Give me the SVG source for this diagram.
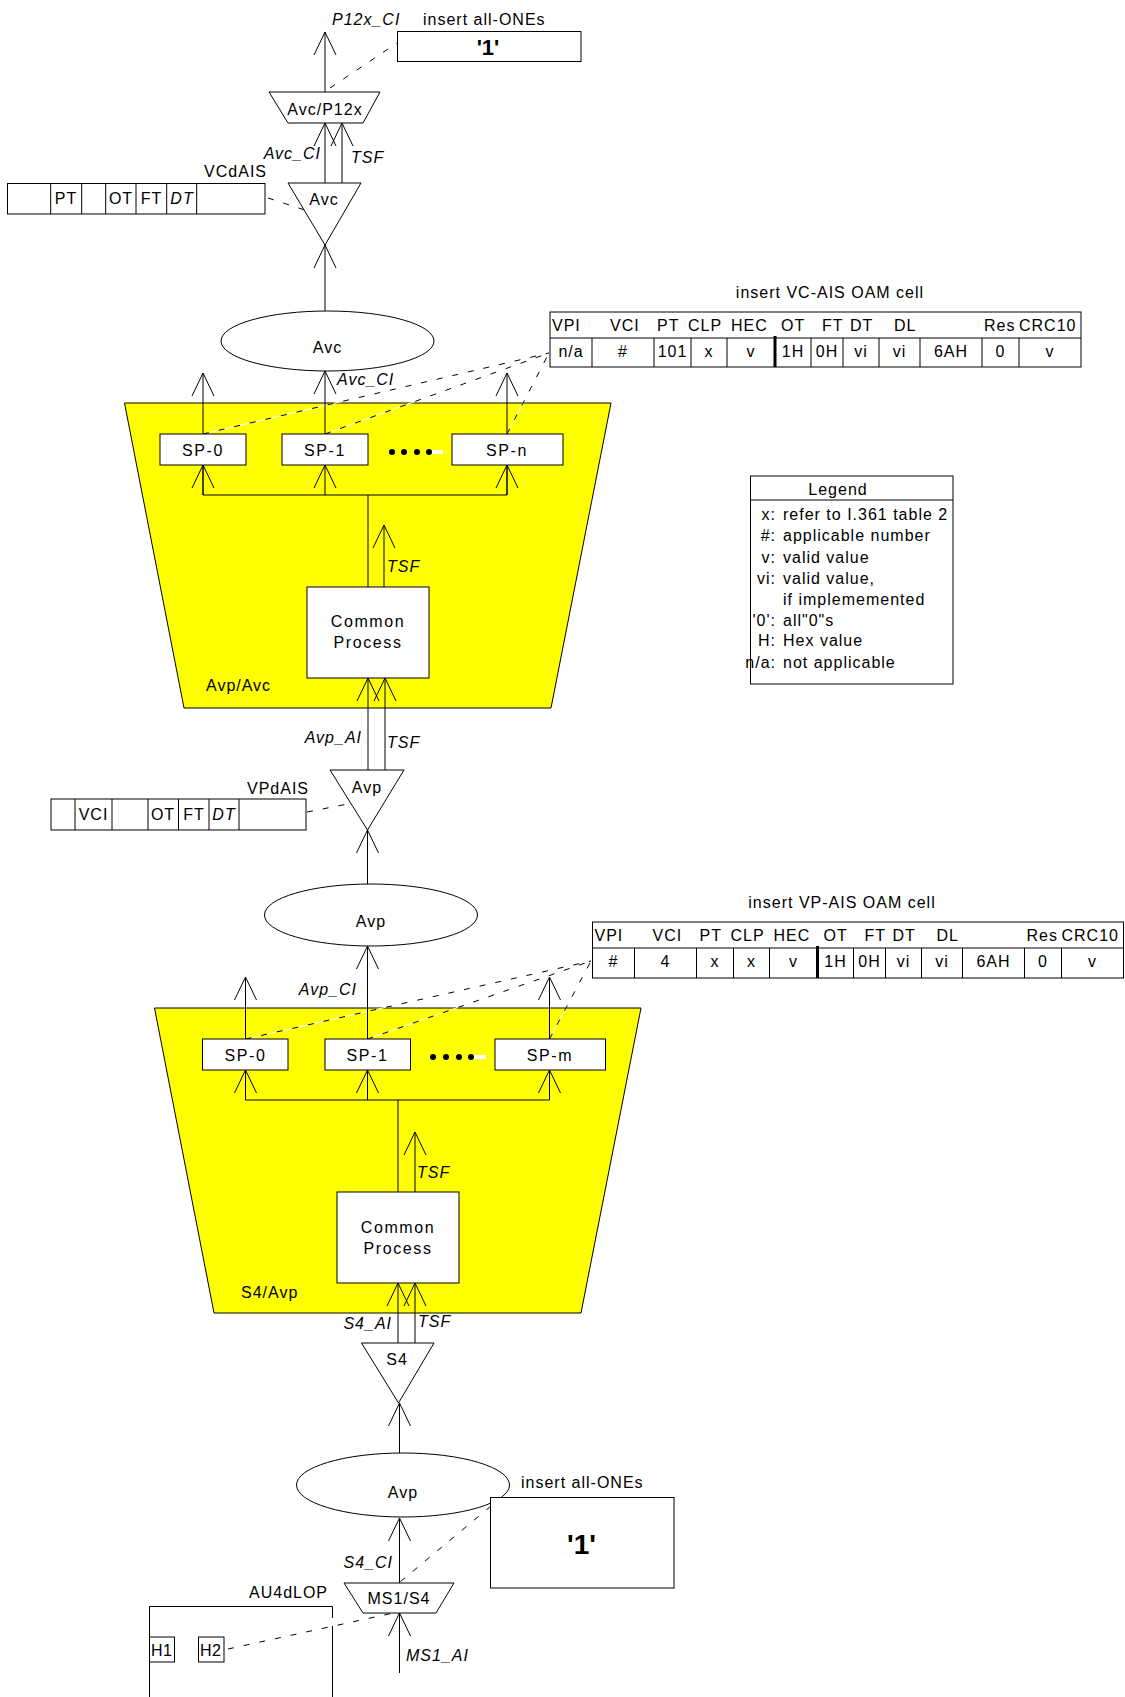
<svg xmlns="http://www.w3.org/2000/svg" width="1125" height="1697" viewBox="0 0 1125 1697">
<defs>
<marker id="a" markerUnits="userSpaceOnUse" viewBox="-24 -12 25 24" markerWidth="25" markerHeight="24" refX="0" refY="0" orient="auto" overflow="visible"><path d="M-23,-11 L0,0 L-23,11" fill="none" stroke="#000" stroke-width="1"/></marker>
</defs>
<style>
.ln{stroke:#000;fill:none;stroke-width:1}
.bx{stroke:#000;fill:#fff;stroke-width:1}
.yl{stroke:#000;fill:#ffff00;stroke-width:1}
.tk{stroke:#000;stroke-width:3}
.ds{stroke:#000;stroke-width:1;stroke-dasharray:6 10;fill:none}
.wl{stroke:#fff;stroke-width:1;fill:none}
text{font-family:"Liberation Sans",Arial,sans-serif;font-size:16px;letter-spacing:1px;fill:#000}
.i{font-style:italic}
.m{text-anchor:middle}
.e{text-anchor:end}
.w{letter-spacing:1.6px}
.n{letter-spacing:0.4px}
.b1{font-weight:bold;letter-spacing:0;font-size:22px}
.b2{font-weight:bold;letter-spacing:0;font-size:28px}
</style>
<rect width="1125" height="1697" fill="#fff"/>

<g id="avp-avc">
<polygon class="yl" points="124.5,403 611,403 551,708 184,708"/>
<text x="206" y="691">Avp/Avc</text>
</g>
<g id="s4-avp">
<polygon class="yl" points="154.5,1008 641,1008 581,1313 214,1313"/>
<text x="241" y="1298">S4/Avp</text>
</g>

<g id="connectors">
<line class="ds" x1="330" y1="88" x2="397" y2="43"/>
<line class="ds" x1="268" y1="198" x2="320" y2="215"/>
<line class="ds" x1="307" y1="812" x2="368" y2="800"/>
<line class="wl" x1="203" y1="434" x2="549" y2="353"/>
<line class="wl" x1="325" y1="434" x2="549" y2="353"/>
<line class="wl" x1="507" y1="434" x2="549" y2="353"/>
<line class="ds" x1="203" y1="434" x2="549" y2="353"/>
<line class="ds" x1="325" y1="434" x2="549" y2="353"/>
<line class="ds" x1="507" y1="434" x2="549" y2="353"/>
<line class="wl" x1="245.5" y1="1039" x2="591" y2="961"/>
<line class="wl" x1="367.5" y1="1039" x2="591" y2="961"/>
<line class="wl" x1="549.5" y1="1039" x2="591" y2="961"/>
<line class="ds" x1="245.5" y1="1039" x2="591" y2="961"/>
<line class="ds" x1="367.5" y1="1039" x2="591" y2="961"/>
<line class="ds" x1="549.5" y1="1039" x2="591" y2="961"/>
<line class="ds" x1="491" y1="1506" x2="400" y2="1582"/>
<line class="wl" x1="228" y1="1649" x2="398" y2="1612"/>
<line class="ds" x1="228" y1="1649" x2="398" y2="1612"/>

<line class="ln" x1="325" y1="92" x2="325" y2="32" marker-end="url(#a)"/>
<line class="ln" x1="325" y1="183" x2="325" y2="123" marker-end="url(#a)"/>
<line class="ln" x1="342" y1="183" x2="342" y2="123" marker-end="url(#a)"/>
<line class="ln" x1="325" y1="311" x2="325" y2="245" marker-end="url(#a)"/>
<line class="ln" x1="203" y1="434" x2="203" y2="373" marker-end="url(#a)"/>
<line class="ln" x1="325" y1="434" x2="325" y2="371" marker-end="url(#a)"/>
<line class="ln" x1="507" y1="434" x2="507" y2="373" marker-end="url(#a)"/>
<polyline class="ln" points="203,465 203,495 507,495 507,465"/>
<line class="ln" x1="325" y1="495" x2="325" y2="465" marker-end="url(#a)"/>
<line class="ln" x1="203" y1="495" x2="203" y2="465" marker-end="url(#a)"/>
<line class="ln" x1="507" y1="495" x2="507" y2="465" marker-end="url(#a)"/>
<line class="ln" x1="368" y1="495" x2="368" y2="587"/>
<line class="ln" x1="384" y1="587" x2="384" y2="525" marker-end="url(#a)"/>
<line class="ln" x1="368" y1="770" x2="368" y2="678" marker-end="url(#a)"/>
<line class="ln" x1="385" y1="770" x2="385" y2="678" marker-end="url(#a)"/>
<line class="ln" x1="367.5" y1="884" x2="367.5" y2="830" marker-end="url(#a)"/>
<line class="ln" x1="245.5" y1="1039" x2="245.5" y2="977" marker-end="url(#a)"/>
<line class="ln" x1="367.5" y1="1039" x2="367.5" y2="946" marker-end="url(#a)"/>
<line class="ln" x1="549.5" y1="1039" x2="549.5" y2="977" marker-end="url(#a)"/>
<polyline class="ln" points="245.5,1070 245.5,1100 549.5,1100 549.5,1070"/>
<line class="ln" x1="245.5" y1="1100" x2="245.5" y2="1070" marker-end="url(#a)"/>
<line class="ln" x1="367.5" y1="1100" x2="367.5" y2="1070" marker-end="url(#a)"/>
<line class="ln" x1="549.5" y1="1100" x2="549.5" y2="1070" marker-end="url(#a)"/>
<line class="ln" x1="398" y1="1100" x2="398" y2="1192"/>
<line class="ln" x1="415" y1="1192" x2="415" y2="1132" marker-end="url(#a)"/>
<line class="ln" x1="398" y1="1343" x2="398" y2="1283" marker-end="url(#a)"/>
<line class="ln" x1="415" y1="1343" x2="415" y2="1283" marker-end="url(#a)"/>
<line class="ln" x1="399.5" y1="1453" x2="399.5" y2="1403" marker-end="url(#a)"/>
<line class="ln" x1="399.5" y1="1583" x2="399.5" y2="1518" marker-end="url(#a)"/>
<line class="ln" x1="399.5" y1="1673" x2="399.5" y2="1613" marker-end="url(#a)"/>

<text class="i" x="332" y="25">P12x_CI</text>
<text class="i e" x="321" y="159">Avc_CI</text>
<text class="i" x="351" y="163">TSF</text>
<text class="i" x="337" y="385">Avc_CI</text>
<text class="i" x="387" y="572">TSF</text>
<text class="i e" x="362" y="743">Avp_AI</text>
<text class="i" x="387" y="748">TSF</text>
<text class="i e" x="357" y="995">Avp_CI</text>
<text class="i" x="417" y="1178">TSF</text>
<text class="i e" x="392" y="1329">S4_AI</text>
<text class="i" x="418" y="1327">TSF</text>
<text class="i e" x="393" y="1568">S4_CI</text>
<text class="i" x="406" y="1661">MS1_AI</text>
</g>

<g id="insert-ones-top">
<text x="423" y="25">insert all-ONEs</text>
<rect class="bx" x="397.5" y="31.5" width="183.5" height="30"/>
<text class="b1 m" x="488" y="55">'1'</text>
</g>

<g id="avc-p12x">
<polygon class="bx" points="269,92 380,92 363,123 288,123"/>
<text class="m" x="325" y="115">Avc/P12x</text>
</g>

<g id="vcdais">
<text class="e" x="267" y="177">VCdAIS</text>
<rect class="bx" x="7.5" y="183.5" width="257.5" height="30.5"/>
<line class="ln" x1="50.7" y1="183.5" x2="50.7" y2="214"/>
<line class="ln" x1="81.7" y1="183.5" x2="81.7" y2="214"/>
<line class="ln" x1="105.7" y1="183.5" x2="105.7" y2="214"/>
<line class="ln" x1="136" y1="183.5" x2="136" y2="214" stroke-width="2"/>
<line class="ln" x1="166.7" y1="183.5" x2="166.7" y2="214"/>
<line class="ln" x1="196.7" y1="183.5" x2="196.7" y2="214"/>
<text class="m" x="66" y="204">PT</text>
<text class="m" x="121" y="204">OT</text>
<text class="m" x="151.5" y="204">FT</text>
<text class="m i" x="182" y="204">DT</text>
</g>

<g id="avc-trail">
<polygon class="bx" points="288,183 361,183 325,245"/>
<text class="m" x="324" y="205">Avc</text>
</g>

<g id="avc-ap">
<ellipse class="bx" cx="327.5" cy="341" rx="106.5" ry="30"/>
<text class="m" x="327.5" y="353">Avc</text>
</g>

<g id="vc-ais-cell">
<text class="m" x="830" y="298">insert VC-AIS OAM cell</text>
<rect class="bx" x="550" y="312" width="531" height="55"/>
<line class="ln" x1="550" y1="338" x2="1081" y2="338"/>
<g class="ln">
<line x1="592" y1="338" x2="592" y2="367"/><line x1="654" y1="338" x2="654" y2="367"/>
<line x1="691" y1="338" x2="691" y2="367"/><line x1="727" y1="338" x2="727" y2="367"/>
<line x1="811" y1="338" x2="811" y2="367"/><line x1="843" y1="338" x2="843" y2="367"/>
<line x1="879" y1="338" x2="879" y2="367"/><line x1="920" y1="338" x2="920" y2="367"/>
<line x1="982" y1="338" x2="982" y2="367"/><line x1="1019" y1="338" x2="1019" y2="367"/>
</g>
<line class="tk" x1="775" y1="336" x2="775" y2="367"/>
<text x="552" y="331">VPI</text><text x="610" y="331">VCI</text><text x="657" y="331">PT</text>
<text x="688" y="331">CLP</text><text x="731" y="331">HEC</text><text x="781" y="331">OT</text>
<text x="822" y="331">FT</text><text x="850" y="331">DT</text><text x="894" y="331">DL</text>
<text x="984" y="331">Res</text><text x="1019" y="331">CRC10</text>
<text class="m" x="571" y="357">n/a</text><text class="m" x="623" y="357">#</text>
<text class="m" x="672.5" y="357">101</text><text class="m" x="709" y="357">x</text>
<text class="m" x="751" y="357">v</text><text class="m" x="793" y="357">1H</text>
<text class="m" x="827" y="357">0H</text><text class="m" x="861" y="357">vi</text>
<text class="m" x="899.5" y="357">vi</text><text class="m" x="951" y="357">6AH</text>
<text class="m" x="1000.5" y="357">0</text><text class="m" x="1050" y="357">v</text>
</g>

<g id="sp-upper">
<rect class="bx" x="160" y="434" width="86" height="31"/>
<text class="m w" x="203" y="456">SP-0</text>
<rect class="bx" x="282" y="434" width="86" height="31"/>
<text class="m w" x="325" y="456">SP-1</text>
<rect class="bx" x="452" y="434" width="111" height="31"/>
<text class="m w" x="507" y="456">SP-n</text>
<line x1="431" y1="452" x2="443" y2="452" stroke="#fff" stroke-width="4"/>
<circle cx="392" cy="452" r="3"/><circle cx="404" cy="452" r="3"/><circle cx="417" cy="452" r="3"/><circle cx="429" cy="452" r="3"/>
</g>

<g id="common-upper">
<rect class="bx" x="307" y="587" width="122" height="91"/>
<text class="m w" x="368" y="627">Common</text>
<text class="m w" x="368" y="648">Process</text>
</g>

<g id="legend">
<rect class="bx" x="750.5" y="476" width="202.5" height="208"/>
<line class="ln" x1="750.5" y1="500" x2="953" y2="500"/>
<g class="n">
<text class="m" x="838" y="495">Legend</text>
<text class="e" x="776" y="520">x:</text><text x="783" y="520">refer to I.361 table 2</text>
<text class="e" x="776" y="541">#:</text><text x="783" y="541">applicable number</text>
<text class="e" x="776" y="563">v:</text><text x="783" y="563">valid value</text>
<text class="e" x="776" y="584">vi:</text><text x="783" y="584">valid value,</text>
<text x="783" y="605">if implememented</text>
<text class="e" x="776" y="626">'0':</text><text x="783" y="626">all"0"s</text>
<text class="e" x="776" y="646">H:</text><text x="783" y="646">Hex value</text>
<text class="e" x="776" y="668">n/a:</text><text x="783" y="668">not applicable</text>
</g>
</g>

<g id="vpdais">
<text class="e" x="309" y="794">VPdAIS</text>
<rect class="bx" x="51" y="799" width="255" height="31"/>
<line class="ln" x1="75" y1="799" x2="75" y2="830"/>
<line class="ln" x1="112" y1="799" x2="112" y2="830"/>
<line class="ln" x1="148" y1="799" x2="148" y2="830"/>
<line class="ln" x1="178.5" y1="799" x2="178.5" y2="830" stroke-width="2"/>
<line class="ln" x1="209" y1="799" x2="209" y2="830"/>
<line class="ln" x1="239" y1="799" x2="239" y2="830"/>
<text class="m" x="93.5" y="820">VCI</text>
<text class="m" x="163" y="820">OT</text>
<text class="m" x="194" y="820">FT</text>
<text class="m i" x="224" y="820">DT</text>
</g>

<g id="avp-trail">
<polygon class="bx" points="330,770 404,770 367.5,830"/>
<text class="m" x="367" y="793">Avp</text>
</g>

<g id="avp-ap-mid">
<ellipse class="bx" cx="371" cy="915" rx="106.5" ry="31"/>
<text class="m" x="371" y="927">Avp</text>
</g>

<g id="vp-ais-cell">
<text class="m" x="842" y="908">insert VP-AIS OAM cell</text>
<rect class="bx" x="592.5" y="922" width="531" height="56"/>
<line class="ln" x1="592.5" y1="948" x2="1123.5" y2="948"/>
<g class="ln">
<line x1="634.5" y1="948" x2="634.5" y2="978"/><line x1="696.5" y1="948" x2="696.5" y2="978"/>
<line x1="733.5" y1="948" x2="733.5" y2="978"/><line x1="769.5" y1="948" x2="769.5" y2="978"/>
<line x1="853.5" y1="948" x2="853.5" y2="978"/><line x1="885.5" y1="948" x2="885.5" y2="978"/>
<line x1="921.5" y1="948" x2="921.5" y2="978"/><line x1="962.5" y1="948" x2="962.5" y2="978"/>
<line x1="1024.5" y1="948" x2="1024.5" y2="978"/><line x1="1061.5" y1="948" x2="1061.5" y2="978"/>
</g>
<line class="tk" x1="817.5" y1="946" x2="817.5" y2="978"/>
<text x="594.5" y="941">VPI</text><text x="652.5" y="941">VCI</text><text x="699.5" y="941">PT</text>
<text x="730.5" y="941">CLP</text><text x="773.5" y="941">HEC</text><text x="823.5" y="941">OT</text>
<text x="864.5" y="941">FT</text><text x="892.5" y="941">DT</text><text x="936.5" y="941">DL</text>
<text x="1026.5" y="941">Res</text><text x="1061.5" y="941">CRC10</text>
<text class="m" x="613.5" y="967">#</text><text class="m" x="665.5" y="967">4</text>
<text class="m" x="715" y="967">x</text><text class="m" x="751.5" y="967">x</text>
<text class="m" x="793.5" y="967">v</text><text class="m" x="835.5" y="967">1H</text>
<text class="m" x="869.5" y="967">0H</text><text class="m" x="903.5" y="967">vi</text>
<text class="m" x="942" y="967">vi</text><text class="m" x="993.5" y="967">6AH</text>
<text class="m" x="1043" y="967">0</text><text class="m" x="1092.5" y="967">v</text>
</g>

<g id="sp-lower">
<rect class="bx" x="202.5" y="1039" width="85.5" height="31"/>
<text class="m w" x="245.5" y="1061">SP-0</text>
<rect class="bx" x="325" y="1039" width="85.5" height="31"/>
<text class="m w" x="367.5" y="1061">SP-1</text>
<rect class="bx" x="495" y="1039" width="110.5" height="31"/>
<text class="m w" x="550" y="1061">SP-m</text>
<line x1="473" y1="1057" x2="486" y2="1057" stroke="#fff" stroke-width="4"/>
<circle cx="433" cy="1057" r="3"/><circle cx="446" cy="1057" r="3"/><circle cx="459" cy="1057" r="3"/><circle cx="471" cy="1057" r="3"/>
</g>

<g id="common-lower">
<rect class="bx" x="337" y="1192" width="122" height="91"/>
<text class="m w" x="398" y="1233">Common</text>
<text class="m w" x="398" y="1254">Process</text>
</g>

<g id="s4-trail">
<polygon class="bx" points="361.5,1343 434,1343 398.5,1403"/>
<text class="m" x="397" y="1365">S4</text>
</g>

<g id="avp-ap-lower">
<ellipse class="bx" cx="403" cy="1485" rx="106.5" ry="32"/>
<text class="m" x="403" y="1498">Avp</text>
</g>

<g id="insert-ones-lower">
<text x="521" y="1488">insert all-ONEs</text>
<rect class="bx" x="490.5" y="1497.5" width="183.5" height="90.5"/>
<text class="b2 m" x="581.5" y="1554">'1'</text>
</g>

<g id="ms1-s4">
<polygon class="bx" points="344,1583 454,1583 436,1613 363,1613"/>
<text class="m" x="399" y="1604">MS1/S4</text>
</g>

<g id="au4dlop">
<text x="249" y="1598">AU4dLOP</text>
<path class="ln" d="M149.5,1700 V1606.5 H332.5 V1700"/>
<line class="wl" x1="332.5" y1="1618" x2="332.5" y2="1626"/>
<rect class="bx" x="149.5" y="1637" width="25" height="25"/>
<text x="151" y="1656" class="n">H1</text>
<rect class="bx" x="198.5" y="1637" width="25.5" height="25"/>
<text x="200" y="1656" class="n">H2</text>
</g>
</svg>
